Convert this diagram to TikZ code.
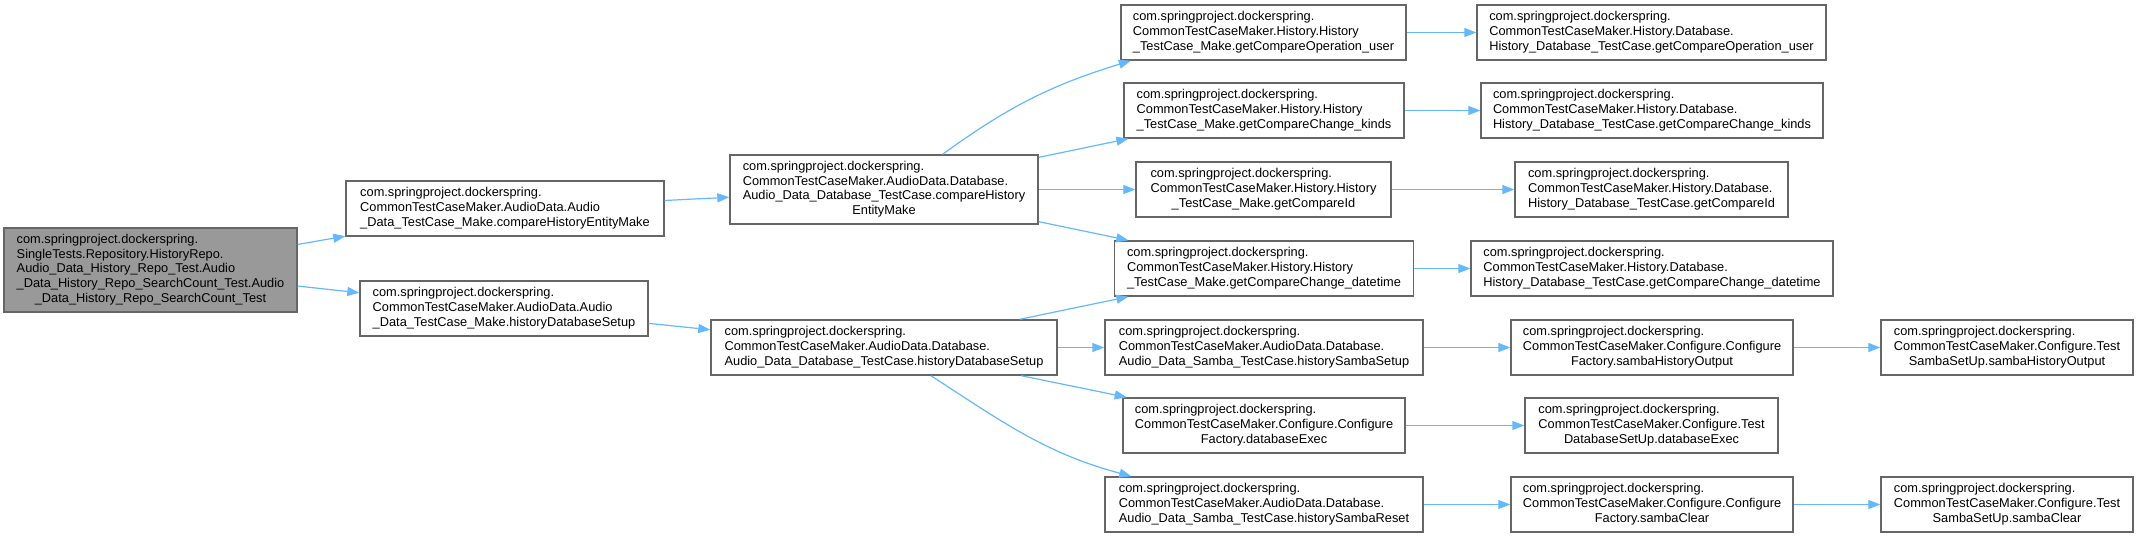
\documentclass[tikz,border=0pt]{standalone}
\usepackage{fontspec}
\newfontfamily\dxfont{Liberation Sans}
\usetikzlibrary{arrows.meta}
\definecolor{edgeblue}{HTML}{63B8FF}
\definecolor{boxgrey}{HTML}{666666}
\definecolor{rootfill}{HTML}{999999}
% lines left aligned, last line centred
\newcommand{\calltxt}[2]{\begin{tabular}{@{}l@{}}#1\\\multicolumn{1}{@{}c@{}}{#2}\end{tabular}}
\newcommand{\pkg}{com.springproject.dockerspring.}

\begin{document}
\begin{tikzpicture}[x=0.5pt, y=-0.5pt,
        fn/.style={draw=boxgrey, line width=0.7pt, fill=white, rectangle, inner sep=1pt, minimum height=27.5pt, font=\dxfont\fontsize{6.4}{7.4}\selectfont},
        rootfn/.style={fn, fill=rootfill, minimum height=42pt},
        call/.style={draw=edgeblue, line width=0.6pt, -{Triangle[length=6pt,width=4.5pt]}}]
    \useasboundingbox (0,0) rectangle (2139,537);
    % caller
    \node [rootfn, minimum width=146.5pt] (root) at (150.5,270) {\calltxt{\pkg\\SingleTests.Repository.HistoryRepo.\\Audio\_Data\_History\_Repo\_Test.Audio\\\_Data\_History\_Repo\_SearchCount\_Test.Audio}{\_Data\_History\_Repo\_SearchCount\_Test}};
    % Audio_Data_TestCase_Make
    \node [fn, minimum width=159pt] (mkCompare) at (505,208.5) {\calltxt{\pkg\\CommonTestCaseMaker.AudioData.Audio}{\_Data\_TestCase\_Make.compareHistoryEntityMake}};
    \node [fn, minimum width=144pt] (mkSetup) at (504,308.5) {\calltxt{\pkg\\CommonTestCaseMaker.AudioData.Audio}{\_Data\_TestCase\_Make.historyDatabaseSetup}};
    % Audio_Data_Database_TestCase
    \node [fn, minimum width=154pt, minimum height=34.5pt] (dbCompare) at (884,189.5) {\calltxt{\pkg\\CommonTestCaseMaker.AudioData.Database.\\Audio\_Data\_Database\_TestCase.compareHistory}{EntityMake}};
    \node [fn, minimum width=173pt] (dbSetup) at (884,347.5) {\calltxt{\pkg\\CommonTestCaseMaker.AudioData.Database.}{Audio\_Data\_Database\_TestCase.historyDatabaseSetup}};
    % History_TestCase_Make
    \node [fn, minimum width=142.5pt] (hOpUser) at (1263.5,32.5) {\calltxt{\pkg\\CommonTestCaseMaker.History.History}{\_TestCase\_Make.getCompareOperation\_user}};
    \node [fn, minimum width=140pt] (hKinds) at (1264,110.5) {\calltxt{\pkg\\CommonTestCaseMaker.History.History}{\_TestCase\_Make.getCompareChange\_kinds}};
    \node [fn, minimum width=127.5pt] (hId) at (1263.5,189.5) {\calltxt{\pkg\\CommonTestCaseMaker.History.History}{\_TestCase\_Make.getCompareId}};
    \node [fn, minimum width=149.5pt] (hDate) at (1264,268.5) {\calltxt{\pkg\\CommonTestCaseMaker.History.History}{\_TestCase\_Make.getCompareChange\_datetime}};
    % samba / configure callers
    \node [fn, minimum width=159pt] (sbSetup) at (1264,347.5) {\calltxt{\pkg\\CommonTestCaseMaker.AudioData.Database.}{Audio\_Data\_Samba\_TestCase.historySambaSetup}};
    \node [fn, minimum width=141pt] (cfExec) at (1264,425.5) {\calltxt{\pkg\\CommonTestCaseMaker.Configure.Configure}{Factory.databaseExec}};
    \node [fn, minimum width=159pt] (sbReset) at (1264,504.5) {\calltxt{\pkg\\CommonTestCaseMaker.AudioData.Database.}{Audio\_Data\_Samba\_TestCase.historySambaReset}};
    % History_Database_TestCase
    \node [fn, minimum width=174.5pt] (hdOpUser) at (1651.5,32.5) {\calltxt{\pkg\\CommonTestCaseMaker.History.Database.}{History\_Database\_TestCase.getCompareOperation\_user}};
    \node [fn, minimum width=171pt] (hdKinds) at (1652,110.5) {\calltxt{\pkg\\CommonTestCaseMaker.History.Database.}{History\_Database\_TestCase.getCompareChange\_kinds}};
    \node [fn, minimum width=136.5pt] (hdId) at (1651.5,189.5) {\calltxt{\pkg\\CommonTestCaseMaker.History.Database.}{History\_Database\_TestCase.getCompareId}};
    \node [fn, minimum width=181pt] (hdDate) at (1652,268.5) {\calltxt{\pkg\\CommonTestCaseMaker.History.Database.}{History\_Database\_TestCase.getCompareChange\_datetime}};
    % Configure
    \node [fn, minimum width=141pt] (cfOutput) at (1652,347.5) {\calltxt{\pkg\\CommonTestCaseMaker.Configure.Configure}{Factory.sambaHistoryOutput}};
    \node [fn, minimum width=126.5pt] (tdExec) at (1651.5,425.5) {\calltxt{\pkg\\CommonTestCaseMaker.Configure.Test}{DatabaseSetUp.databaseExec}};
    \node [fn, minimum width=141pt] (cfClear) at (1652,504.5) {\calltxt{\pkg\\CommonTestCaseMaker.Configure.Configure}{Factory.sambaClear}};
    \node [fn, minimum width=126pt] (tsOutput) at (2007,347.5) {\calltxt{\pkg\\CommonTestCaseMaker.Configure.Test}{SambaSetUp.sambaHistoryOutput}};
    \node [fn, minimum width=126pt] (tsClear) at (2007,504.5) {\calltxt{\pkg\\CommonTestCaseMaker.Configure.Test}{SambaSetUp.sambaClear}};

    % calls
    \draw [call] (root) -- (mkCompare);
    \draw [call] (root) -- (mkSetup);
    \draw [call] (mkCompare) -- (dbCompare);
    \draw [call] (mkSetup) -- (dbSetup);
    \draw [call] (dbCompare.31) to[out=36, in=197] (hOpUser.192);
    \draw [call] (dbCompare) -- (hKinds);
    \draw [call] (dbCompare) -- (hId);
    \draw [call] (dbCompare) -- (hDate);
    \draw [call] (dbSetup) -- (hDate);
    \draw [call] (dbSetup) -- (sbSetup);
    \draw [call] (dbSetup) -- (cfExec);
    \draw [call] (dbSetup.-31) to[out=-33, in=165] (sbReset.168);
    \draw [call] (hOpUser) -- (hdOpUser);
    \draw [call] (hKinds) -- (hdKinds);
    \draw [call] (hId) -- (hdId);
    \draw [call] (hDate) -- (hdDate);
    \draw [call] (sbSetup) -- (cfOutput);
    \draw [call] (cfExec) -- (tdExec);
    \draw [call] (sbReset) -- (cfClear);
    \draw [call] (cfOutput) -- (tsOutput);
    \draw [call] (cfClear) -- (tsClear);
\end{tikzpicture}
\end{document}
